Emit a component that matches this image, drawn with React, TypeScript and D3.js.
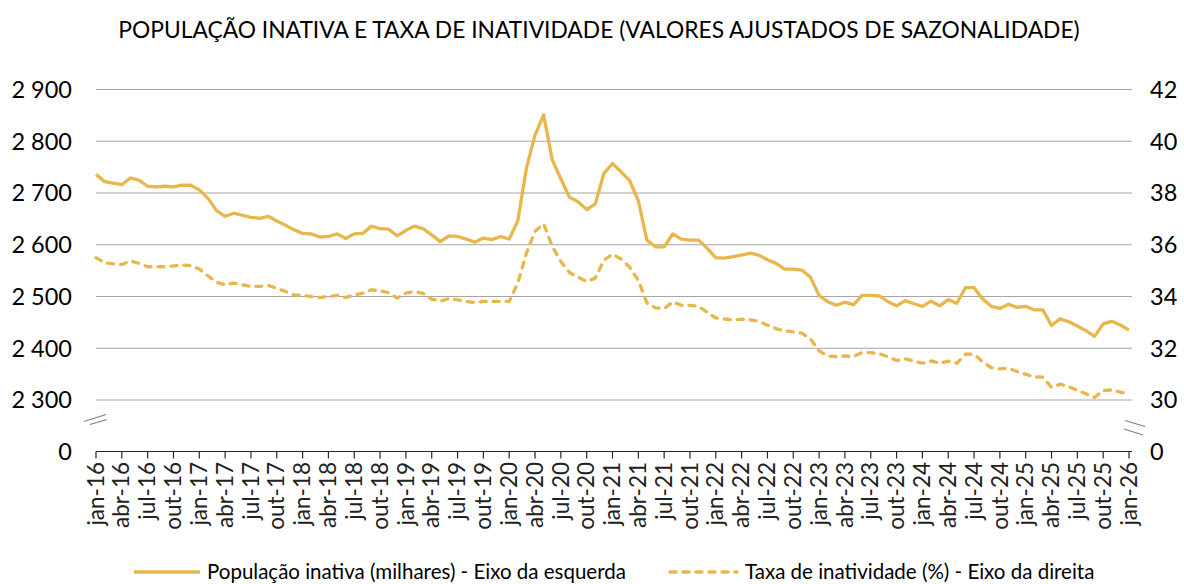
import React, { useRef, useEffect } from "react";
import * as d3 from "d3";

// monthly values jan-16 .. jan-26
const populacaoInativa = [
    2736, 2722, 2719, 2716, 2729, 2725, 2713, 2712, 2713, 2712, 2715, 2715,
    2706, 2690, 2666, 2655, 2661, 2657, 2653, 2651, 2655, 2646, 2638, 2629,
    2622, 2621, 2615, 2616, 2621, 2612, 2621, 2622, 2636, 2631, 2630, 2617,
    2628, 2636, 2631, 2619, 2606, 2617, 2616, 2611, 2605, 2613, 2610, 2616,
    2611, 2646, 2748, 2812, 2851, 2764, 2727, 2692, 2683, 2668, 2679, 2738,
    2757, 2741, 2724, 2685, 2609, 2596, 2596, 2621, 2611, 2609, 2609, 2593,
    2575, 2574, 2577, 2580, 2584, 2580, 2571, 2564, 2553, 2553, 2551, 2537,
    2502, 2490, 2483, 2489, 2484, 2502, 2502, 2501, 2490, 2482, 2492, 2486,
    2481, 2491, 2482, 2494, 2487, 2517, 2517, 2495, 2481, 2477, 2485, 2479,
    2481, 2474, 2474, 2444, 2457, 2451, 2443, 2434, 2423, 2447, 2452, 2445,
    2435,
];

const taxaInatividade = [
    35.5, 35.31, 35.26, 35.24, 35.37, 35.28, 35.15, 35.15, 35.15, 35.18, 35.22, 35.19,
    35.06, 34.8, 34.55, 34.45, 34.52, 34.45, 34.39, 34.39, 34.43, 34.32, 34.19, 34.06,
    34.04, 34.0, 33.96, 34.0, 34.04, 33.96, 34.06, 34.13, 34.26, 34.22, 34.15, 33.94,
    34.13, 34.19, 34.12, 33.9, 33.82, 33.92, 33.87, 33.81, 33.77, 33.81, 33.81, 33.81,
    33.81, 34.52, 35.68, 36.52, 36.81, 35.94, 35.35, 34.93, 34.75, 34.58, 34.71, 35.4,
    35.64, 35.45, 35.13, 34.62, 33.75, 33.56, 33.53, 33.79, 33.66, 33.66, 33.62, 33.39,
    33.17, 33.13, 33.1, 33.12, 33.1, 33.04, 32.89, 32.76, 32.67, 32.63, 32.58, 32.36,
    31.9, 31.7, 31.68, 31.7, 31.68, 31.84, 31.83, 31.79, 31.67, 31.53, 31.59, 31.51,
    31.42, 31.51, 31.42, 31.5, 31.42, 31.77, 31.77, 31.48, 31.25, 31.2, 31.23, 31.1,
    30.99, 30.9, 30.88, 30.49, 30.61, 30.52, 30.37, 30.24, 30.1, 30.37, 30.39, 30.3,
    30.26,
];

const monthNames = ["jan", "fev", "mar", "abr", "mai", "jun", "jul", "ago", "set", "out", "nov", "dez"];
const years = ["16", "17", "18", "19", "20", "21", "22", "23", "24", "25", "26"];

const leftTicks = [0, 2300, 2400, 2500, 2600, 2700, 2800, 2900];
const rightTicks = [0, 30, 32, 34, 36, 38, 40, 42];

const title = "POPULAÇÃO INATIVA E TAXA DE INATIVIDADE (VALORES AJUSTADOS DE SAZONALIDADE)";
const legendLabels = ["População inativa (milhares) - Eixo da esquerda", "Taxa de inatividade (%) - Eixo da direita"];

const months = years.flatMap((yy) => monthNames.map((m) => `${m}-${yy}`)).slice(0, populacaoInativa.length);

export default function App() {
    const svgRef = useRef(null);

    useEffect(() => {
        const width = 1184;
        const height = 584;
        const color = "#E9B64C";
        const font = "Lato, 'Open Sans', sans-serif";
        const plot = { left: 96, right: 1129, top: 89.5, brk: 400, bottom: 451.5 };

        const svg = d3.select(svgRef.current).attr("width", width).attr("height", height);
        svg.selectAll("*").remove();

        const x = d3.scalePoint<string>().domain(months).range([plot.left, plot.right]);

        // broken axes: 0 sits one step below the first gridline
        const yLeft = d3.scaleLinear().domain([0, 2300, 2900]).range([plot.bottom, plot.brk, plot.top]);
        const yRight = d3.scaleLinear().domain([0, 30, 42]).range([plot.bottom, plot.brk, plot.top]);

        svg.append("text")
            .attr("x", 599)
            .attr("y", 38)
            .attr("text-anchor", "middle")
            .attr("font-family", font)
            .attr("font-size", 22.8)
            .attr("fill", "#000")
            .text(title);

        // gridlines
        svg.append("g")
            .selectAll("line")
            .data(leftTicks.filter((t) => t > 0))
            .join("line")
            .attr("x1", plot.left)
            .attr("x2", plot.right + 3)
            .attr("y1", (d) => yLeft(d))
            .attr("y2", (d) => yLeft(d))
            .attr("stroke", "#A6A6A6")
            .attr("stroke-width", 1.2);

        const fmt = d3.formatLocale({ decimal: ",", thousands: " ", grouping: [3], currency: ["", "€"] }).format(",d");

        svg.append("g")
            .selectAll("text")
            .data(leftTicks)
            .join("text")
            .attr("x", 72)
            .attr("y", (d) => yLeft(d))
            .attr("dy", "0.36em")
            .attr("text-anchor", "end")
            .attr("font-family", font)
            .attr("font-size", 23.5)
            .text((d) => fmt(d));

        svg.append("g")
            .selectAll("text")
            .data(rightTicks)
            .join("text")
            .attr("x", 1150)
            .attr("y", (d) => yRight(d))
            .attr("dy", "0.36em")
            .attr("text-anchor", "start")
            .attr("font-family", font)
            .attr("font-size", 23.5)
            .text((d) => d);

        // x axis
        const tickMonths = months.filter((_, i) => i % 3 === 0);
        const xAxis = svg.append("g");
        xAxis.append("line")
            .attr("x1", plot.left)
            .attr("x2", plot.right + 3)
            .attr("y1", plot.bottom)
            .attr("y2", plot.bottom)
            .attr("stroke", "#262626")
            .attr("stroke-width", 1.2);
        xAxis.selectAll("line.tick")
            .data(tickMonths)
            .join("line")
            .attr("class", "tick")
            .attr("x1", (d) => x(d)!)
            .attr("x2", (d) => x(d)!)
            .attr("y1", plot.bottom)
            .attr("y2", plot.bottom + 7)
            .attr("stroke", "#262626")
            .attr("stroke-width", 1.2);
        xAxis.selectAll("text")
            .data(tickMonths)
            .join("text")
            .attr("transform", (d) => `translate(${x(d)!},462) rotate(-90)`)
            .attr("dy", "0.34em")
            .attr("text-anchor", "end")
            .attr("font-family", font)
            .attr("font-size", 22.5)
            .attr("fill", "#222")
            .text((d) => d);

        // axis break marks
        const brk = svg.append("g").attr("stroke", "#7F7F7F").attr("stroke-width", 1.3);
        brk.append("line").attr("x1", 84).attr("y1", 421.5).attr("x2", 106).attr("y2", 414.5);
        brk.append("line").attr("x1", 90).attr("y1", 424.5).attr("x2", 107).attr("y2", 419.5);
        brk.append("line").attr("x1", 1125).attr("y1", 420.5).attr("x2", 1145).attr("y2", 426.5);
        brk.append("line").attr("x1", 1124).attr("y1", 429).attr("x2", 1143).attr("y2", 435);

        const lineLeft = d3.line<number>()
            .x((_, i) => x(months[i])!)
            .y((d) => yLeft(d));
        const lineRight = d3.line<number>()
            .x((_, i) => x(months[i])!)
            .y((d) => yRight(d));

        svg.append("path")
            .datum(taxaInatividade)
            .attr("fill", "none")
            .attr("stroke", color)
            .attr("stroke-width", 3.3)
            .attr("stroke-linecap", "round")
            .attr("stroke-linejoin", "round")
            .attr("stroke-dasharray", "6,7")
            .attr("d", lineRight);

        svg.append("path")
            .datum(populacaoInativa)
            .attr("fill", "none")
            .attr("stroke", color)
            .attr("stroke-width", 3.3)
            .attr("stroke-linejoin", "round")
            .attr("d", lineLeft);

        // legend
        const legendY = 572;
        const legend = svg.append("g").attr("font-family", font).attr("font-size", 20.5);
        legend.append("line")
            .attr("x1", 134).attr("x2", 200).attr("y1", legendY).attr("y2", legendY)
            .attr("stroke", color).attr("stroke-width", 3.3);
        legend.append("text").attr("x", 207).attr("y", legendY).attr("dy", "0.33em").text(legendLabels[0]);
        legend.append("line")
            .attr("x1", 670).attr("x2", 737).attr("y1", legendY).attr("y2", legendY)
            .attr("stroke", color).attr("stroke-width", 3.3)
            .attr("stroke-linecap", "round").attr("stroke-dasharray", "6,7");
        legend.append("text").attr("x", 745).attr("y", legendY).attr("dy", "0.33em").text(legendLabels[1]);
    }, []);

    return (
        <svg ref={svgRef} style={{ position: "absolute", left: 0, top: 0, background: "#fff" }}></svg>
    );
}
